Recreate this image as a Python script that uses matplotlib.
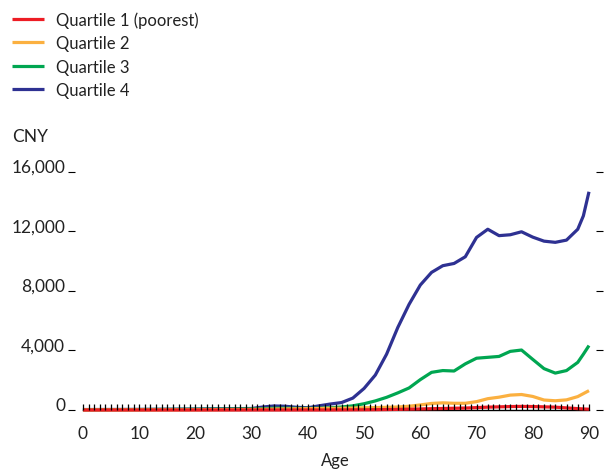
import numpy as np
import matplotlib
matplotlib.use("Agg")
from matplotlib import pyplot as plt

plt.rcParams['font.family'] = ['Lato', 'DejaVu Sans']

ages = [0, 10, 20, 25, 30, 32, 34, 36, 38, 40, 42, 44, 46, 48, 50, 52, 54, 56, 58,
        60, 62, 64, 66, 68, 70, 72, 74, 76, 78, 80, 82, 84, 86, 88, 89, 90]

q1 = [0, 0, 0, 0, 0, 0, 0, 0, 0, 0, 0, 0, 5, 10, 15, 20, 30, 40, 55,
      70, 85, 100, 115, 130, 160, 190, 210, 230, 240, 230, 210, 190, 140, 90, 70, 50]
q2 = [10, 15, 20, 30, 40, 50, 60, 70, 80, 90, 100, 110, 120, 130, 150, 160, 180, 200, 250,
      340, 440, 480, 450, 450, 560, 760, 860, 1000, 1040, 910, 670, 620, 680, 900, 1100, 1300]
q3 = [20, 30, 50, 60, 70, 90, 120, 120, 110, 110, 120, 150, 200, 280, 420, 610, 850, 1150, 1480,
      2040, 2530, 2650, 2620, 3100, 3480, 3540, 3600, 3940, 4030, 3400, 2780, 2480, 2650, 3200, 3750, 4330]
q4 = [30, 40, 60, 80, 100, 200, 270, 250, 180, 150, 280, 400, 500, 800, 1450, 2350, 3750, 5550, 7100,
      8400, 9250, 9700, 9850, 10300, 11600, 12150, 11720, 11780, 11980, 11620, 11350, 11270, 11420, 12150, 13050, 14670]

names = ["Quartile 1 (poorest)", "Quartile 2", "Quartile 3", "Quartile 4"]
colors = ["#ed1c24", "#fbb040", "#00a651", "#2e3192"]
series = [q1, q2, q3, q4]

yticks = [0, 4000, 8000, 12000, 16000]
yticks_txt = ["0", "4,000", "8,000", "12,000", "16,000"]
xticks = list(range(0, 91, 10))

fig = plt.figure(figsize=(6.13, 4.77), dpi=100)
ax = fig.add_axes([0.1223, 0.1384, 0.85, 0.5052])

handles = []
for i in [3, 2, 1, 0]:
    ln, = ax.plot(ages, series[i], color=colors[i], lw=2.3, clip_on=False,
                  solid_capstyle='butt')
    handles.append(ln)
handles = handles[::-1]

ax.set_xlim(-1.42, 91.25)
ax.set_ylim(0, 16200)

for s in ["top", "right", "left"]:
    ax.spines[s].set_visible(False)
ax.spines["bottom"].set_bounds(0, 90)
ax.spines["bottom"].set_linewidth(1.0)
ax.spines["bottom"].set_zorder(1)

ax.set_xticks(xticks)
ax.set_xticklabels([str(v) for v in xticks])
ax.set_xticks(range(0, 91), minor=True)
ax.tick_params(axis='x', which='both', direction='in', length=4.6, width=0.9,
               color='black')
ax.tick_params(axis='x', which='major', pad=11, labelsize=12.5, labelcolor='#222222')

ax.set_yticks(yticks)
ax.set_yticklabels(yticks_txt)
ax.tick_params(axis='y', which='major', direction='out', length=5, width=0.8,
               right=True, labelright=False, pad=2, labelsize=12.5,
               labelcolor='#222222')
for lab in ax.get_yticklabels():
    lab.set_va('baseline')
ax.set_axisbelow(False)

ax.set_xlabel("Age", fontsize=12, color='#222222', labelpad=8)

fig.text(0.02, 0.712, "CNY", fontsize=12.5, color='#222222', va='center')

fig.legend(handles, names, loc='upper left', bbox_to_anchor=(-0.005, 1.006),
           frameon=False, fontsize=12, handlelength=1.9, handletextpad=0.75,
           labelspacing=0.45, labelcolor='#222222')

plt.savefig("out.png", dpi=100)
